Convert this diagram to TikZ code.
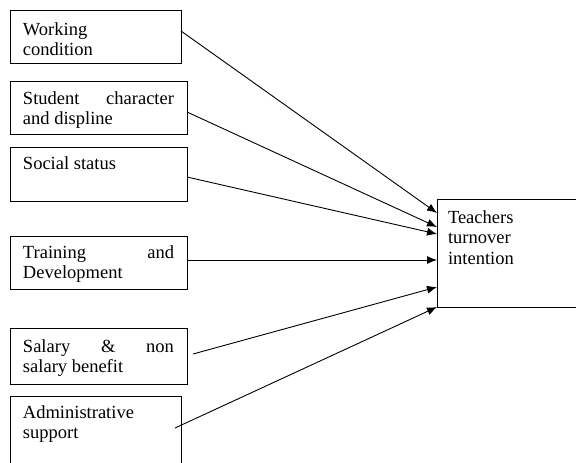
\documentclass[tikz,border=0pt]{standalone}
\usepackage{fontspec}
\setmainfont{Liberation Serif}
\usetikzlibrary{arrows.meta}
\newcommand{\boxtext}[4]{\parbox[c][#2pt][t]{#1pt}{\fontsize{18.5}{20.5}\selectfont\rule{0pt}{#3pt}#4}}
\tikzset{
  factor/.style={draw, line width=1pt, anchor=north west, inner xsep=13pt, inner ysep=0pt, outer sep=0pt},
  outcome/.style={factor, inner xsep=11pt},
  arr/.style={line width=0.9pt, -{Latex[length=10pt,width=8pt]}}
}
\begin{document}
\begin{tikzpicture}[x=1pt,y=-1pt]
\useasboundingbox (0,0) rectangle (576,463);
\clip (0,0) rectangle (576,463);
\fill[white] (0,0) rectangle (576,463);
\node[factor] (b1) at (10,10) {\boxtext{145}{53}{25}{Working\\condition}};
\node[factor] (b2) at (10,81) {\boxtext{151}{53}{23}{Student\hfill character\\and displine}};
\node[factor] (b3) at (10,147) {\boxtext{151}{54}{22}{Social status}};
\node[factor] (b4) at (10,236) {\boxtext{151}{53}{22}{Training\hfill and\\Development}};
\node[factor] (b5) at (10,328) {\boxtext{151}{56}{24}{Salary\hfill\&\hfill non\\salary benefit}};
\node[factor] (b6) at (10,396) {\boxtext{145}{80}{22}{Administrative\\support}};
\node[outcome] (t) at (437,199) {\boxtext{123}{108}{24}{Teachers\\turnover\\intention}};
\draw[arr] ([yshift=-21pt]b1.north east) -- ([yshift=-14pt]t.north west);
\draw[arr] ([yshift=-31pt]b2.north east) -- ([yshift=-28pt]t.north west);
\draw[arr] ([yshift=-30pt]b3.north east) -- ([yshift=-35pt]t.north west);
\draw[arr] ([yshift=-24pt]b4.north east) -- ([yshift=-61pt]t.north west);
\draw[arr] ([xshift=6pt,yshift=-26pt]b5.north east) -- ([yshift=-88pt]t.north west);
\draw[arr] ([xshift=-6pt,yshift=-32pt]b6.north east) -- ([yshift=-108pt]t.north west);
\end{tikzpicture}
\end{document}
